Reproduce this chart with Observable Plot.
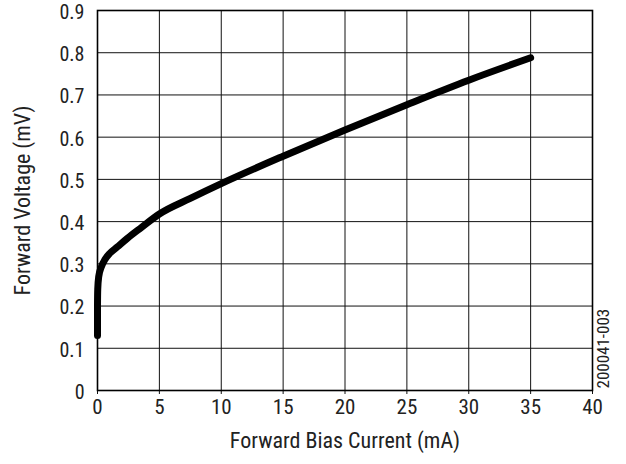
<!DOCTYPE html>
<html><head><meta charset="utf-8">
<script src="https://cdn.jsdelivr.net/npm/d3@7"></script>
<script src="https://cdn.jsdelivr.net/npm/@observablehq/plot@0.6"></script>
<style>
body{margin:0;background:#fff;}
svg{font-family:"Liberation Sans Narrow","Roboto Condensed",Roboto,sans-serif;}
</style></head><body><div id="c"></div>
<script>
const current = [0.0, 0.0, 0.02, 0.1, 0.3, 0.6, 1.0, 1.6, 2.4, 3.5, 5.0, 7.5, 10, 15, 20, 25, 30, 35];
const voltage = [0.13, 0.2, 0.24, 0.27, 0.292, 0.31, 0.325, 0.34, 0.36, 0.385, 0.418, 0.455, 0.49, 0.555, 0.617, 0.677, 0.735, 0.788];
const xTicks = [0,5,10,15,20,25,30,35,40];
const yTicks = [0,0.1,0.2,0.3,0.4,0.5,0.6,0.7,0.8,0.9];
const data = current.map((c,i)=>({c, v: voltage[i]}));
const chart = Plot.plot({
  width: 626, height: 464,
  marginLeft: 97, marginRight: 34, marginTop: 10, marginBottom: 74,
  style: {color: "#222"},
  x: {domain:[0,40]},
  y: {domain:[0,0.9]},
  marks: [
    Plot.gridX(xTicks, {stroke:"#111", strokeOpacity:1, strokeWidth:1}),
    Plot.gridY(yTicks, {stroke:"#111", strokeOpacity:1, strokeWidth:1}),
    Plot.axisX(xTicks, {fontSize: 21, tickSize: 4, tickPadding: 5, stroke:"#111", label: null}),
    Plot.axisY(yTicks, {fontSize: 20, tickSize: 0, tickPadding: 13, dy: 2, tickFormat: d => d===0 ? "0" : d3.format(".1f")(d), label: null}),
    Plot.text(["Forward Bias Current (mA)"], {frameAnchor:"bottom", dy: 57, fontSize: 22, fill:"#222"}),
    Plot.text(["Forward Voltage (mV)"], {frameAnchor:"left", dx: -75, rotate: -90, textAnchor:"middle", fontSize: 22, fill:"#222"}),
    Plot.frame({stroke:"#000", strokeWidth:1.6}),
    Plot.line(data, {x:"c", y:"v", stroke:"#000", strokeWidth:7, strokeLinecap:"round", strokeLinejoin:"round", curve:"monotone-x"}),
    Plot.text(["200041-003"], {frameAnchor:"bottom-right", dx: 16, dy: -2, rotate: -90, textAnchor:"start", fontSize: 17, fill:"#222"})
  ]
});
document.getElementById("c").appendChild(chart);
</script></body></html>
